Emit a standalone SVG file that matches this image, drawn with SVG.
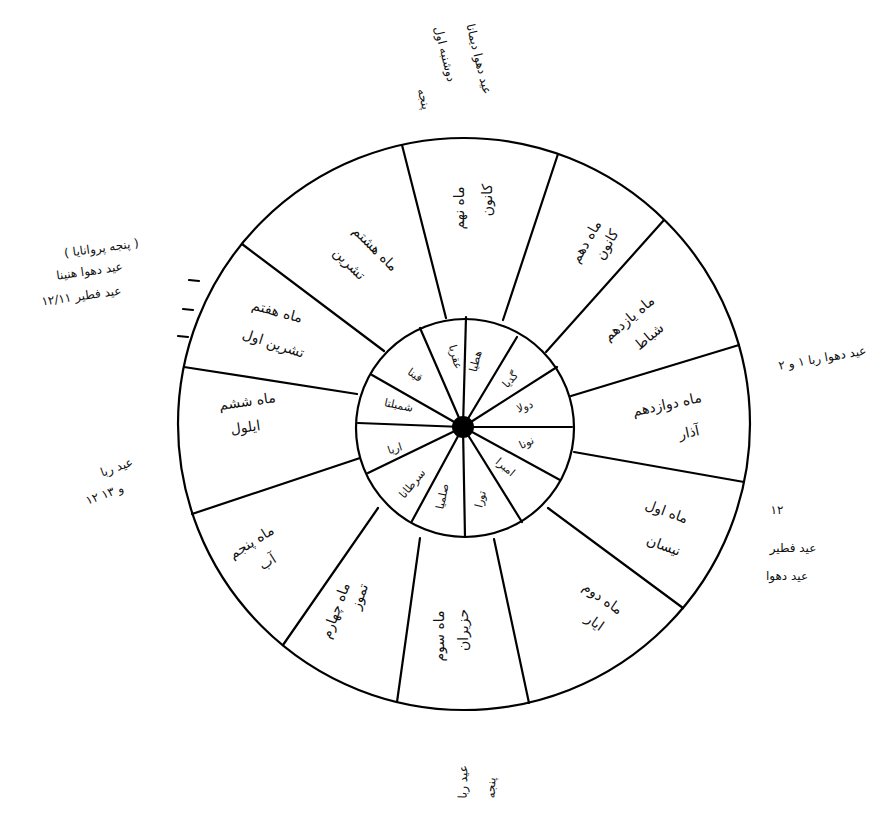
<svg xmlns="http://www.w3.org/2000/svg" width="896" height="823" viewBox="0 0 896 823">
<style>
.ln{stroke:#000;stroke-width:2.2;fill:none;stroke-linecap:round}
.t{font-family:"DejaVu Sans","Noto Sans",sans-serif;font-size:14px;fill:#111;text-anchor:middle}
.ti{font-family:"DejaVu Sans","Noto Sans",sans-serif;font-size:11px;fill:#111;text-anchor:middle}
.ta{font-family:"DejaVu Sans","Noto Sans",sans-serif;font-size:12px;fill:#111;text-anchor:middle}
</style>
<rect width="896" height="823" fill="#fff"/>
<g id="rings">
<circle class="ln" cx="464" cy="424" r="286" stroke-width="2.6"/>
<circle class="ln" cx="465" cy="428" r="109"/>
<circle cx="463" cy="427" r="11" fill="#000"/>
</g>
<g id="connectors">
<line class="ln" x1="446" y1="318" x2="402" y2="145"/>
<line class="ln" x1="503" y1="320" x2="558" y2="154"/>
<line class="ln" x1="546" y1="352" x2="664" y2="220"/>
<line class="ln" x1="571" y1="396" x2="739" y2="345"/>
<line class="ln" x1="574" y1="452" x2="744" y2="482"/>
<line class="ln" x1="548" y1="508" x2="683" y2="608"/>
<line class="ln" x1="494" y1="539" x2="529" y2="703"/>
<line class="ln" x1="420" y1="538" x2="397" y2="702"/>
<line class="ln" x1="378" y1="508" x2="283" y2="645"/>
<line class="ln" x1="360" y1="458" x2="192" y2="514"/>
<line class="ln" x1="357" y1="394" x2="184" y2="367"/>
<line class="ln" x1="384" y1="351" x2="242" y2="244"/>
<line class="ln" x1="463" y1="427" x2="420" y2="328"/>
<line class="ln" x1="463" y1="427" x2="372" y2="375"/>
<line class="ln" x1="463" y1="427" x2="358" y2="423"/>
<line class="ln" x1="463" y1="427" x2="368" y2="473"/>
<line class="ln" x1="463" y1="427" x2="412" y2="521"/>
<line class="ln" x1="463" y1="427" x2="465" y2="537"/>
<line class="ln" x1="463" y1="427" x2="522" y2="522"/>
<line class="ln" x1="463" y1="427" x2="560" y2="480"/>
<line class="ln" x1="463" y1="427" x2="572" y2="427"/>
<line class="ln" x1="463" y1="427" x2="557" y2="367"/>
<line class="ln" x1="463" y1="427" x2="517" y2="337"/>
<line class="ln" x1="463" y1="427" x2="466" y2="317"/>
<line class="ln" x1="189" y1="280" x2="199" y2="281"/>
<line class="ln" x1="183" y1="309" x2="193" y2="310"/>
<line class="ln" x1="178" y1="336" x2="188" y2="337"/>
</g>
<g id="month12"><text class="t" transform="translate(668,409) rotate(-12)">ماه دوازدهم</text><text class="t" transform="translate(690,437) rotate(-12)">آذار</text></g>
<g id="month11"><text class="t" transform="translate(632,322) rotate(-40)">ماه یازدهم</text><text class="t" transform="translate(652,340) rotate(-40)">شباط</text></g>
<g id="month10"><text class="t" transform="translate(590,244) rotate(-60)">ماه دهم</text><text class="t" transform="translate(611,247) rotate(-60)">کانون</text></g>
<g id="month9"><text class="t" transform="translate(464,208) rotate(-90)">ماه نهم</text><text class="t" transform="translate(492,200) rotate(-90)">کانون</text></g>
<g id="month8"><text class="t" transform="translate(372,252) rotate(45)">ماه هشتم</text><text class="t" transform="translate(346,267) rotate(45)">تشرین</text></g>
<g id="month7"><text class="t" transform="translate(276,316) rotate(15)">ماه هفتم</text><text class="t" transform="translate(272,348) rotate(18)">تشرین اول</text></g>
<g id="month6"><text class="t" transform="translate(248,406) rotate(-8)">ماه ششم</text><text class="t" transform="translate(246,432) rotate(-8)">ایلول</text></g>
<g id="month5"><text class="t" transform="translate(254,546) rotate(-32)">ماه پنجم</text><text class="t" transform="translate(270,566) rotate(-32)">آب</text></g>
<g id="month4"><text class="t" transform="translate(340,612) rotate(-70)">ماه چهارم</text><text class="t" transform="translate(364,598) rotate(-70)">تموز</text></g>
<g id="month3"><text class="t" transform="translate(444,636) rotate(-90)">ماه سوم</text><text class="t" transform="translate(468,630) rotate(-90)">حزیران</text></g>
<g id="month2"><text class="t" transform="translate(600,602) rotate(35)">ماه دوم</text><text class="t" transform="translate(592,626) rotate(35)">ایار</text></g>
<g id="month1"><text class="t" transform="translate(665,516) rotate(20)">ماه اول</text><text class="t" transform="translate(662,550) rotate(20)">نیسان</text></g>
<g id="signs">
<text class="ti" transform="translate(479,362) rotate(-76)">هطیا</text>
<text class="ti" transform="translate(513,382) rotate(-48)">گدیا</text>
<text class="ti" transform="translate(526,410) rotate(-20)">دولا</text>
<text class="ti" transform="translate(528,446) rotate(-25)">نونا</text>
<text class="ti" transform="translate(503,470) rotate(40)">امبرا</text>
<text class="ti" transform="translate(484,500) rotate(-76)">تورا</text>
<text class="ti" transform="translate(446,497) rotate(-78)">صلمیا</text>
<text class="ti" transform="translate(415,486) rotate(-50)">سرطانا</text>
<text class="ti" transform="translate(396,452) rotate(-18)">اریا</text>
<text class="ti" transform="translate(398,409) rotate(12)">شمبلتا</text>
<text class="ti" transform="translate(413,378) rotate(35)">قینا</text>
<text class="ti" transform="translate(452,358) rotate(75)">عقربا</text>
</g>
<g id="note-top">
<text class="ta" transform="translate(475,60) rotate(76)">عید دهوا دیمانا</text>
<text class="ta" transform="translate(441,55) rotate(76)">دوشنبه اول</text>
<text class="ta" transform="translate(420,100) rotate(76)">پنجه</text>
</g>
<g id="note-left-top">
<text class="ta" transform="translate(102,252) rotate(-8)">( پنجه پروانایا )</text>
<text class="ta" transform="translate(90,275) rotate(-8)">عید دهوا هنینا</text>
<text class="ta" transform="translate(82,300) rotate(-8)">عید فطیر ۱۲/۱۱</text>
</g>
<g id="note-right"><text class="ta" transform="translate(823,362) rotate(-10)">عید دهوا ربا ۱ و ۲</text></g>
<g id="note-right-low">
<text class="ta" x="777" y="514">۱۲</text>
<text class="ta" x="793" y="552">عید فطیر</text>
<text class="ta" x="787" y="580">عید دهوا</text>
</g>
<g id="note-left-low">
<text class="ta" transform="translate(118,471) rotate(-20)">عید ربا</text>
<text class="ta" transform="translate(106,498) rotate(-20)">۱۲ و ۱۳</text>
</g>
<g id="note-bottom">
<text class="ta" transform="translate(467,782) rotate(-88)">عید ربا</text>
<text class="ta" transform="translate(495,788) rotate(-88)">پنجه</text>
</g>
</svg>
